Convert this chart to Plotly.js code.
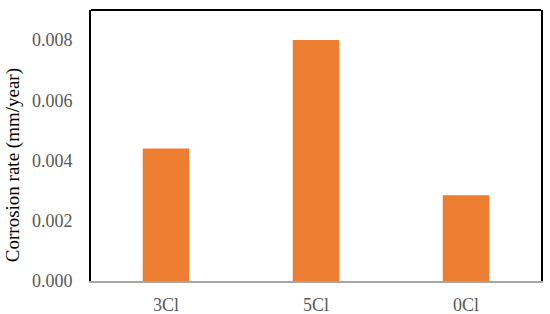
<!DOCTYPE html>
<html>
<head>
<meta charset="utf-8">
<script src="https://cdn.plot.ly/plotly-3.0.1.min.js"></script>
<style>
  html, body { margin: 0; padding: 0; background: #fff; }
  #chart { width: 550px; height: 314px; }
</style>
</head>
<body>
<div id="chart"></div>
<script>
// samples and their measured corrosion rates
const samples = ['3Cl', '5Cl', '0Cl'];
const corrosionRate = [0.0044, 0.0080, 0.00285];
const yTicks = [0, 0.002, 0.004, 0.006, 0.008];

const serif = '"Liberation Serif", "Times New Roman", serif';

const data = [{
    x: samples,
    y: corrosionRate,
    type: 'bar',
    marker: { color: '#ED7D31' },
    hoverinfo: 'x+y'
}];

const layout = {
    width: 550,
    height: 314,
    margin: { t: 10, b: 33, l: 91, r: 9 },
    paper_bgcolor: '#fff',
    plot_bgcolor: '#fff',
    font: { family: serif, size: 18, color: '#595959' },
    bargap: 0.69,
    showlegend: false,
    xaxis: {
        showline: true,
        linecolor: '#a6a6a6',
        linewidth: 2,
        ticks: '',
        ticklabelstandoff: 6,
        tickfont: { family: serif, size: 18, color: '#595959' }
    },
    yaxis: {
        range: [0, 0.009],
        tickvals: yTicks,
        ticktext: yTicks.map(v => v.toFixed(3)),
        showgrid: false,
        zeroline: false,
        showline: true,
        mirror: true,
        linecolor: '#000',
        linewidth: 2,
        ticks: '',
        ticklabelstandoff: 13,
        tickfont: { family: serif, size: 18, color: '#595959' }
    },
    // axis title sits a bit below the plot centre, as in the original
    annotations: [{
        text: 'Corrosion rate (mm/year)',
        xref: 'paper', yref: 'paper',
        x: -0.173, y: 0.428,
        xanchor: 'center', yanchor: 'middle',
        textangle: -90,
        showarrow: false,
        font: { family: serif, size: 19, color: '#000' }
    }],
    shapes: [{
        type: 'line',
        xref: 'paper', yref: 'paper',
        x0: 0, x1: 1, y0: 1, y1: 1,
        line: { color: '#000', width: 2 }
    }]
};

Plotly.newPlot('chart', data, layout, { displayModeBar: false, staticPlot: true });
</script>
</body>
</html>
